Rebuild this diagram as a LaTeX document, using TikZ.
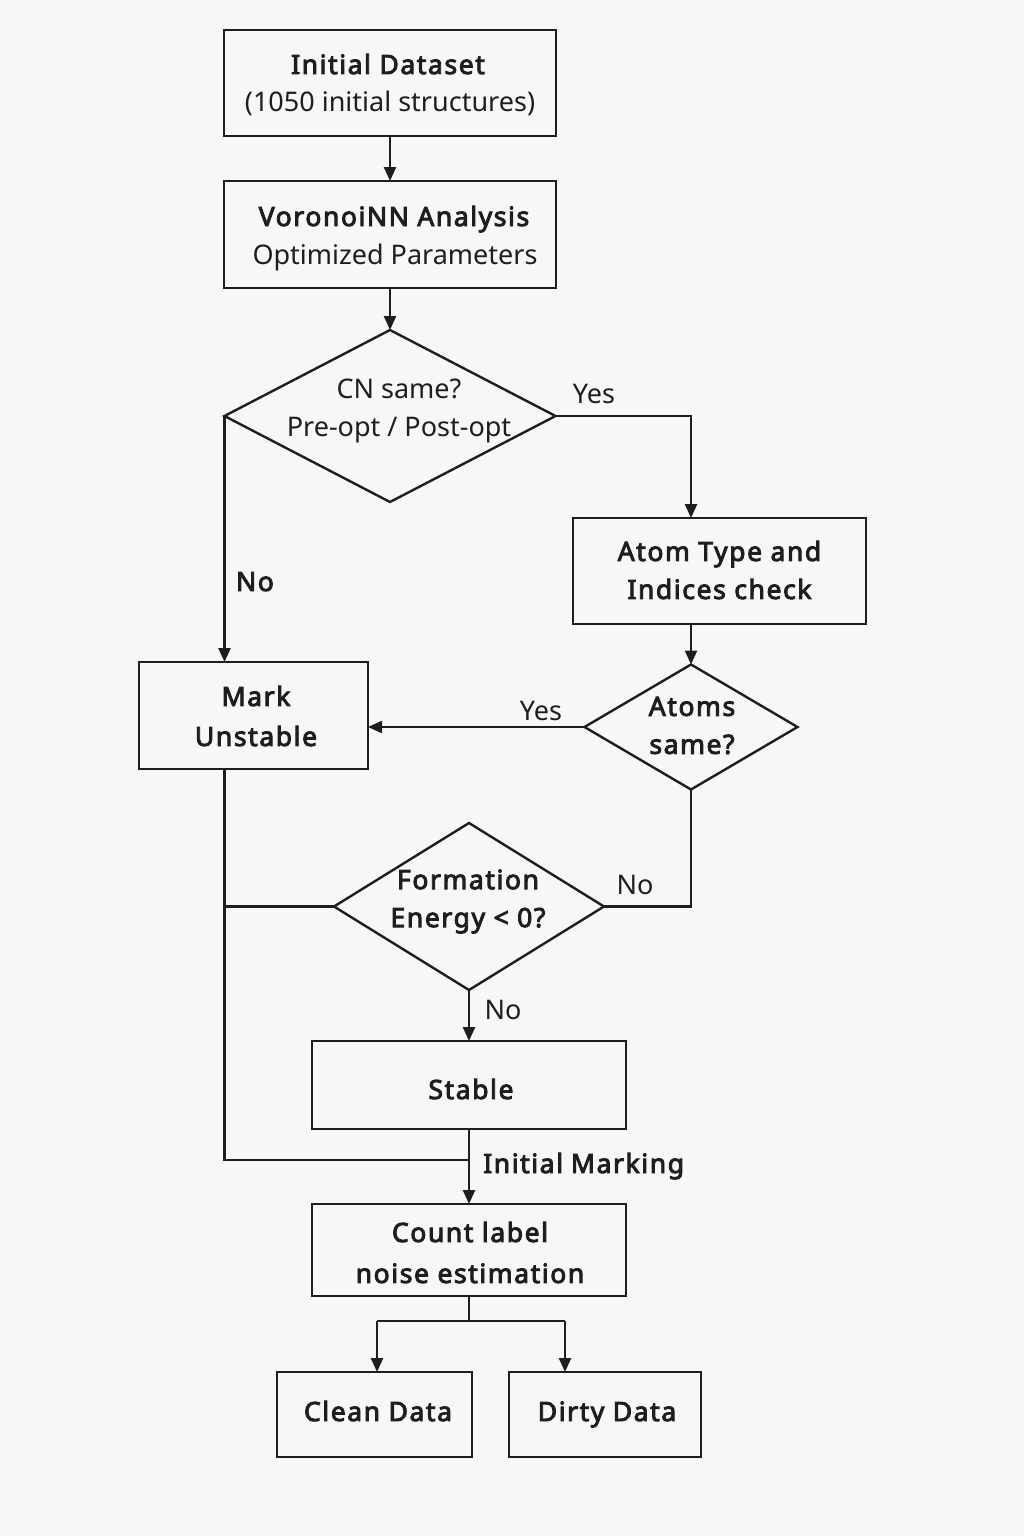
\documentclass[tikz,border=0pt]{standalone}
\usepackage{fontspec}
\setmainfont{Noto Sans}
\newfontfamily\medfont{Noto Sans}[FakeBold=3.5, LetterSpace=6]
\usetikzlibrary{arrows.meta,shapes.geometric}
\definecolor{bgc}{HTML}{F7F7F7}
\definecolor{ink}{HTML}{1E1E1E}
\begin{document}
\begin{tikzpicture}[x=1pt,y=-1pt,
  every node/.style={text=ink},
  txt/.style={font=\fontsize{27}{38}\selectfont, align=center, inner sep=0pt},
  medtxt/.style={font=\fontsize{26.5}{38}\selectfont\medfont, align=center, inner sep=0pt},
  one/.style={anchor=base},
  boxnode/.style={draw=ink, line width=2.4pt, rectangle, inner sep=0pt, outer sep=0pt, align=center},
  dianode/.style={draw=ink, line width=2.4pt, diamond, inner sep=0pt, outer sep=0pt},
  conn/.style={draw=ink, line width=2.4pt},
  arr/.style={conn, -{Triangle[length=14pt,width=12pt]}}
]
\fill[bgc] (0,0) rectangle (1024,1536);
\useasboundingbox (0,0) rectangle (1024,1536);

% boxes
\node[boxnode, minimum width=332, minimum height=106] (b1) at (390,83) {};
\node[medtxt, one] (b1a) at (388,74) {Initial Dataset};
\node[txt, one] (b1b) at (390,112) {(1050 initial structures)};
\node[boxnode, minimum width=332, minimum height=107] (b2) at (390,234.5) {};
\node[medtxt, one] (b2a) at (394,226) {VoronoiNN Analysis};
\node[txt, one] (b2b) at (395,264) {Optimized Parameters};

\node[dianode, minimum width=331, minimum height=172] (d1) at (390,416) {};
\node[txt] (d1t) at (399,411) {CN same?\\Pre-opt / Post-opt};

\node[boxnode, minimum width=293, minimum height=106] (b3) at (719.5,571) {};
\node[medtxt] (b3t) at (719.5,570) {Atom Type and\\Indices check};

\node[dianode, minimum width=213, minimum height=125] (d2) at (691,727) {};
\node[medtxt] (d2t) at (692,725.5) {Atoms\\same?};

\node[boxnode, minimum width=229, minimum height=107] (mu) at (253.5,715.5) {};
\node[medtxt, font=\fontsize{26.5}{40}\selectfont\medfont] (mut) at (256,716) {Mark\\Unstable};

\node[dianode, minimum width=270, minimum height=167] (d3) at (469,906.5) {};
\node[medtxt] (d3t) at (468,901.5) {Formation\\Energy < 0?};

\node[boxnode, minimum width=314, minimum height=88] (st) at (469,1085) {};
\node[medtxt, one] (stt) at (471,1099) {Stable};

\node[boxnode, minimum width=314, minimum height=92] (cnt) at (469,1250) {};
\node[medtxt, font=\fontsize{26.5}{41}\selectfont\medfont] (cntt) at (470,1252.5) {Count label\\noise estimation};

\node[boxnode, minimum width=195, minimum height=85] (clean) at (374.5,1414.5) {};
\node[medtxt, one] (cleant) at (378,1421) {Clean Data};
\node[boxnode, minimum width=192, minimum height=85] (dirty) at (605,1414.5) {};
\node[medtxt, one] (dirtyt) at (607,1421) {Dirty Data};

% helper coordinates
\coordinate (j) at (469,1160);
\coordinate (split) at (469,1321);
\coordinate (sl) at (377,1321);
\coordinate (sr) at (565,1321);

% connectors
\draw[arr] (b1.south) -- (b2.north);
\draw[arr] (b2.south) -- (d1.north);
\draw[arr] (d1.east) -| (b3.north -| d2.north);
\draw[arr] (b3.south -| d2.north) -- (d2.north);
\draw[arr] (d2.west) -- (d2.west -| mu.east);
\draw[arr] (d1.west) -- (d1.west |- mu.north);
\draw[conn] (mu.south -| d1.west) |- (j);
\draw[conn] (d2.south) |- (d3.east);
\draw[conn] (d3.west) -- (d3.west -| d1.west);
\draw[arr] (d3.south) -- (st.north);
\draw[arr] (st.south) -- (cnt.north);
\draw[conn] (cnt.south) -- (split);
\draw[conn] (sl) -- (sr);
\draw[arr] (sl) -- (sl |- clean.north);
\draw[arr] (sr) -- (sr |- dirty.north);

% labels
\node[txt, one] (l1) at (594,403) {Yes};
\node[medtxt, one] (l2) at (255,591) {No};
\node[txt, one] (l3) at (541,720) {Yes};
\node[txt, one] (l4) at (635,894) {No};
\node[txt, one] (l5) at (503,1019) {No};
\node[medtxt, one, anchor=base west] (l6) at (483,1173) {Initial\hspace{0.3em}Marking};
\end{tikzpicture}
\end{document}
